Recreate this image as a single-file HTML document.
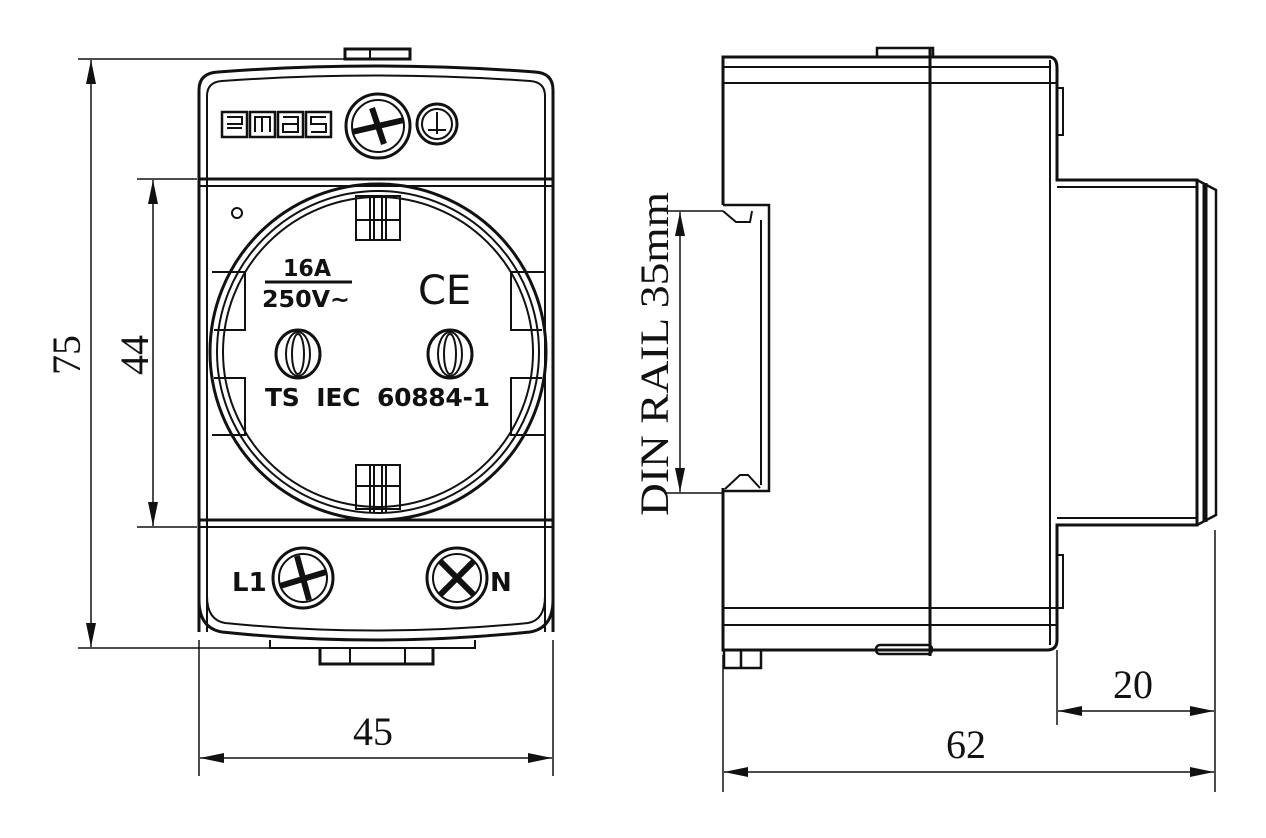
<!DOCTYPE html>
<html><head><meta charset="utf-8"><style>html,body{margin:0;padding:0;background:#fff}svg{display:block}</style></head>
<body>
<svg width="1266" height="838" viewBox="0 0 1266 838" xmlns="http://www.w3.org/2000/svg" font-family="'Liberation Serif',serif">
<defs>
<marker id="a" viewBox="0 0 24 10" refX="24" refY="5" markerWidth="24" markerHeight="10" markerUnits="userSpaceOnUse" orient="auto-start-reverse"><path d="M0,0 L24,5 L0,10z" fill="#111"/></marker>
</defs>
<g fill="none" stroke="#111" stroke-width="1.5">
<line x1="78" y1="59" x2="345" y2="59"/>
<line x1="78" y1="648" x2="278" y2="648"/>
<line x1="137" y1="179" x2="197" y2="179"/>
<line x1="137" y1="527" x2="197" y2="527"/>
<line x1="199" y1="640" x2="199" y2="776"/>
<line x1="553" y1="640" x2="553" y2="776"/>
<line x1="91" y1="60" x2="91" y2="647" marker-start="url(#a)" marker-end="url(#a)"/>
<line x1="153" y1="180" x2="153" y2="526" marker-start="url(#a)" marker-end="url(#a)"/>
<line x1="200" y1="758" x2="552" y2="758" marker-start="url(#a)" marker-end="url(#a)"/>
</g>
<g fill="none" stroke="#111" stroke-width="3">
<rect x="345" y="49" width="65" height="10"/>
<line x1="370" y1="49" x2="370" y2="59" stroke-width="2"/>
<path d="M199,632 L199,90 Q199,73 218,72 Q375,60 535,72 Q553,73 553,90 L553,632"/>
<path d="M207,632 L207,96 Q207,82 222,81 Q375,70 530,81 Q545,82 545,96 L545,632" stroke-width="2"/>
<line x1="199" y1="179" x2="553" y2="179"/>
<line x1="199" y1="186" x2="553" y2="186" stroke-width="2"/>
<line x1="199" y1="520" x2="553" y2="520"/>
<line x1="199" y1="527" x2="553" y2="527" stroke-width="2"/>
<path d="M199,600 Q199,628 222,632 Q375,648 530,632 Q553,628 553,600"/>
<path d="M207,596 Q207,620 225,623 Q375,638 528,623 Q545,620 545,596" stroke-width="2"/>
<path d="M270,640 L270,648 L475,648 L475,640" stroke-width="2"/>
<path d="M320,648 L320,664 L433,664 L433,648"/>
<rect x="350" y="648" width="55" height="16" stroke-width="2"/>
<circle cx="378" cy="352" r="168"/>
<circle cx="378" cy="352" r="161" stroke-width="2"/>
<circle cx="378" cy="352" r="155" stroke-width="2"/>
<path d="M212,272 L245,272 L245,330 L214,330 M212,435 L245,435 L245,378 L214,378" stroke-width="2"/>
<path d="M544,272 L511,272 L511,330 L542,330 M544,435 L511,435 L511,378 L542,378" stroke-width="2"/>
<rect x="356" y="196" width="44" height="44" stroke-width="2"/>
<line x1="356" y1="220" x2="400" y2="220" stroke-width="2"/>
<path d="M370,196 V240 M374,196 V240 M382,196 V240 M386,196 V240" stroke-width="2"/>
<rect x="356" y="465" width="44" height="44" stroke-width="2"/>
<line x1="356" y1="486" x2="400" y2="486" stroke-width="2"/>
<path d="M370,465 V512 M374,465 V512 M382,465 V512 M386,465 V512" stroke-width="2"/>
<circle cx="237" cy="213" r="5" stroke-width="2"/>
<ellipse cx="298" cy="354" rx="22" ry="24"/>
<ellipse cx="298" cy="354" rx="12" ry="22" stroke-width="2"/>
<ellipse cx="298" cy="354" rx="6" ry="20" stroke-width="2"/>
<ellipse cx="450" cy="354" rx="22" ry="24"/>
<ellipse cx="450" cy="354" rx="12" ry="22" stroke-width="2"/>
<ellipse cx="450" cy="354" rx="6" ry="20" stroke-width="2"/>
<circle cx="378" cy="126" r="32"/><circle cx="378" cy="126" r="26" stroke-width="2"/>
<path d="M352,132 L404,120 M372,108 L384,144" stroke-width="6"/>
<circle cx="437" cy="124" r="20"/><circle cx="437" cy="124" r="15" stroke-width="2"/>
<path d="M437,112 V134 M428,130 H446" stroke-width="2"/>
<circle cx="303" cy="578" r="30"/><circle cx="303" cy="578" r="24" stroke-width="2"/>
<path d="M280,586 L326,572 M297,556 L309,600" stroke-width="6"/>
<circle cx="457" cy="578" r="30"/><circle cx="457" cy="578" r="24" stroke-width="2"/>
<path d="M440,595 L474,561 M440,561 L474,595" stroke-width="6"/>
<rect x="222" y="112" width="25" height="25" stroke-width="2.5"/>
<rect x="250" y="112" width="25" height="25" stroke-width="2.5"/>
<rect x="278" y="112" width="25" height="25" stroke-width="2.5"/>
<rect x="306" y="112" width="25" height="25" stroke-width="2.5"/>
<path d="M227,117 H242 V124 H227 M227,128 H242 M255,132 V117 H270 V132 M262,117 V132 M283,117 H298 V132 H283 V124 H298 M326,117 H311 V124 H326 V132 H311" stroke-width="2"/>
<line x1="265" y1="282" x2="352" y2="282" stroke-width="3"/>
</g>
<g font-family="'DejaVu Sans','Liberation Sans',sans-serif" font-weight="bold" fill="#111">
<text x="283" y="276" font-size="23" textLength="48" lengthAdjust="spacingAndGlyphs">16A</text>
<text x="262" y="307" font-size="23" textLength="88" lengthAdjust="spacingAndGlyphs">250V~</text>
<text x="265" y="406" font-size="25" textLength="225" lengthAdjust="spacing" xml:space="preserve">TS  IEC  60884-1</text>
<text x="232" y="591" font-size="26">L1</text>
<text x="490" y="591" font-size="26">N</text>
<text x="418" y="304" font-size="40" font-weight="normal">CE</text>
</g>
<g fill="none" stroke="#111" stroke-width="3">
<rect x="877" y="48" width="56" height="9" stroke-width="2.5"/>
<line x1="930" y1="48" x2="930" y2="656"/>
<path d="M723,205 L723,57 L1050,57 Q1057,58 1057,68 L1057,180 L1197,180 L1197,525 L1057,525 L1057,640 Q1057,650 1047,650 L723,650 L723,488"/>
<line x1="723" y1="67" x2="1050" y2="67" stroke-width="2"/>
<line x1="723" y1="83" x2="1057" y2="83" stroke-width="2"/>
<line x1="723" y1="608" x2="1057" y2="608" stroke-width="2"/>
<line x1="723" y1="625" x2="1057" y2="625" stroke-width="2"/>
<line x1="1050" y1="60" x2="1050" y2="645" stroke-width="2"/>
<path d="M1057,88 L1063,88 L1063,135 L1057,135 M1057,555 L1063,555 L1063,608 L1057,608" stroke-width="2"/>
<line x1="1057" y1="187" x2="1197" y2="187" stroke-width="2"/>
<line x1="1057" y1="518" x2="1197" y2="518" stroke-width="2"/>
<path d="M1197,180 L1216,190 L1216,515 L1197,525" stroke-width="2.5"/>
<line x1="1205" y1="183" x2="1205" y2="522" stroke-width="5"/>
<path d="M723,205 L769,205 L769,491 L723,491" stroke-width="2.5"/>
<line x1="761" y1="220" x2="761" y2="485" stroke-width="2"/>
<path d="M723,211 L736,222 L750,222 L752,211 M725,489 L740,475 L748,475 L760,488" stroke-width="2"/>
<path d="M724,650 L724,668 L761,668 L761,650 M741,650 V668" stroke-width="2.5"/>
<rect x="876" y="645" width="56" height="9" rx="4" stroke-width="2.5"/>
</g>
<g fill="none" stroke="#111" stroke-width="1.5">
<line x1="664" y1="211" x2="723" y2="211"/>
<line x1="664" y1="493" x2="723" y2="493"/>
<line x1="680" y1="212" x2="680" y2="492" marker-start="url(#a)" marker-end="url(#a)"/>
<line x1="723" y1="655" x2="723" y2="792"/>
<line x1="1215" y1="530" x2="1215" y2="792"/>
<line x1="1057" y1="650" x2="1057" y2="725"/>
<line x1="724" y1="772" x2="1214" y2="772" marker-start="url(#a)" marker-end="url(#a)"/>
<line x1="1058" y1="711" x2="1214" y2="711" marker-start="url(#a)" marker-end="url(#a)"/>
</g>
<g fill="#111" font-size="40">
<text transform="translate(80,375) rotate(-90)">75</text>
<text transform="translate(148,375) rotate(-90)">44</text>
<text x="353" y="745">45</text>
<text x="946" y="758">62</text>
<text x="1113" y="698">20</text>
<text transform="translate(668,516) rotate(-90)" textLength="324" lengthAdjust="spacingAndGlyphs">DIN RAIL 35mm</text>
</g>
</svg>
</body></html>
